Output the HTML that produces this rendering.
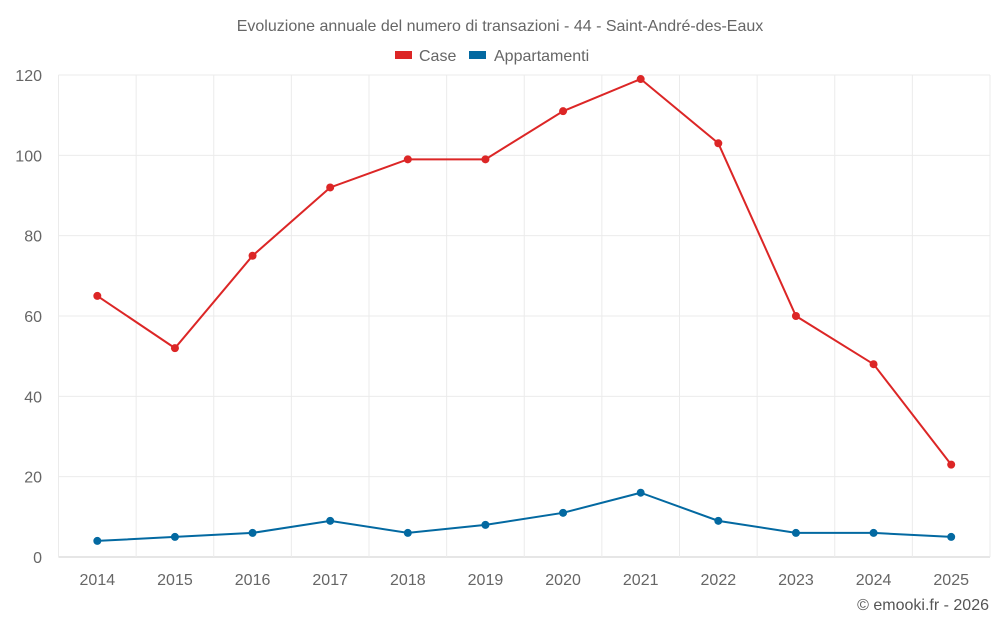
<!DOCTYPE html>
<html><head><meta charset="utf-8">
<style>
html,body{margin:0;padding:0;background:#fff;}
svg{display:block;font-family:"Liberation Sans",sans-serif;}
</style></head>
<body>
<svg id="chart" width="1000" height="625">
  <text x="500" y="31" text-anchor="middle" font-size="16" fill="#666">Evoluzione annuale del numero di transazioni - 44 - Saint-André-des-Eaux</text>
  <g>
    <rect x="395" y="51" width="17" height="8" fill="#dc2626"/>
    <text x="419" y="61" font-size="16" fill="#666">Case</text>
  </g>
  <g>
    <rect x="469" y="51" width="17" height="8" fill="#0369a1"/>
    <text x="494" y="61" font-size="16" fill="#666">Appartamenti</text>
  </g>
  <text x="989" y="610" text-anchor="end" font-size="16" fill="#555">© emooki.fr - 2026</text>
</svg>
<script>
const categories = ["2014","2015","2016","2017","2018","2019","2020","2021","2022","2023","2024","2025"];
const caseValues = [65,52,75,92,99,99,111,119,103,60,48,23];
const appartValues = [4,5,6,9,6,8,11,16,9,6,6,5];
const yTicks = [0,20,40,60,80,100,120];

const svgEl = document.getElementById('chart');
const NS = 'http://www.w3.org/2000/svg';
const plotLeft = 58.5, plotRight = 990, plotTop = 75, plotBottom = 557, yMax = 120;
const band = (plotRight - plotLeft) / categories.length;
function xPos(i){ return plotLeft + band * (i + 0.5); }
function yPos(v){ return plotBottom - (v / yMax) * (plotBottom - plotTop); }
function mk(tag, attrs, parent){
  const e = document.createElementNS(NS, tag);
  for (const k in attrs) e.setAttribute(k, attrs[k]);
  (parent || svgEl).appendChild(e);
  return e;
}

const grid = mk('g', {});


yTicks.forEach(t => {
  const l = mk('line', {x1:plotLeft, x2:plotRight, y1:yPos(t), y2:yPos(t), stroke: t===0 ? '#ccc' : '#ebebeb', 'stroke-width':1}, grid);
  
  
  const tx = mk('text', {x:42, y:yPos(t)+6, 'text-anchor':'end', 'font-size':16, fill:'#666'});
  tx.textContent = t;
  
  
});
for (let i = 0; i <= categories.length; i++) {
  const x = plotLeft + band * i;
  const l = mk('line', {x1:x, x2:x, y1:plotTop, y2:plotBottom, stroke:'#ebebeb', 'stroke-width':1}, grid);
  
  
}
categories.forEach((c, i) => {
  const tx = mk('text', {x:xPos(i), y:585, 'text-anchor':'middle', 'font-size':16, fill:'#666'});
  tx.textContent = c;
  
  
});

function drawSeries(values, color, name){
  const g = mk('g', {});
  
  
  const pts = values.map((v, i) => xPos(i) + ',' + yPos(v)).join(' ');
  const pl = mk('polyline', {points:pts, fill:'none', stroke:color, 'stroke-width':2}, g);
  
  
  values.forEach((v, i) => {
    const c = mk('circle', {cx:xPos(i), cy:yPos(v), r:4, fill:color}, g);
    
    
  });
}
drawSeries(caseValues, '#dc2626', 'case');
drawSeries(appartValues, '#0369a1', 'appartamenti');
</script>
</body></html>
